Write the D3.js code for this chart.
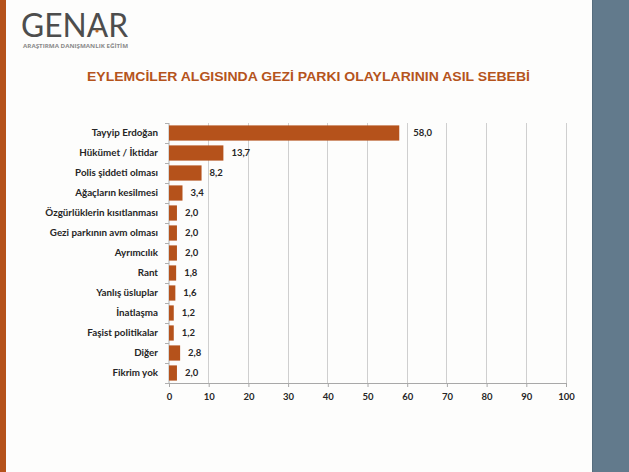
<!DOCTYPE html>
<html><head><meta charset="utf-8">
<script src="https://cdn.jsdelivr.net/npm/d3@7"></script>
<style>body{margin:0;background:#fff}svg{display:block}</style>
</head><body>
<script>
const categories = ["Tayyip Erdoğan","Hükümet / İktidar","Polis şiddeti olması","Ağaçların kesilmesi","Özgürlüklerin kısıtlanması","Gezi parkının avm olması","Ayrımcılık","Rant","Yanlış üsluplar","İnatlaşma","Faşist politikalar","Diğer","Fikrim yok"];
const values = [58.0,13.7,8.2,3.4,2.0,2.0,2.0,1.8,1.6,1.2,1.2,2.8,2.0];
const xTicks = [0,10,20,30,40,50,60,70,80,90,100];
const title = "EYLEMCİLER ALGISINDA GEZİ PARKI OLAYLARININ ASIL SEBEBİ";

const W=629,H=472;
const svg=d3.select("body").append("svg").attr("width",W).attr("height",H);
svg.append("rect").attr("width",W).attr("height",H).attr("fill","#fdfdfc");
// left accent strip
svg.append("rect").attr("x",0).attr("y",0).attr("width",6).attr("height",H).attr("fill","#b5521b");
// right panel
svg.append("rect").attr("x",592).attr("y",0).attr("width",W-592).attr("height",H).attr("fill","#627a8c");
svg.append("rect").attr("x",592).attr("y",0).attr("width",1).attr("height",H).attr("fill","#566d7e");

// logo
svg.append("text").attr("x",21).attr("y",37).attr("font-family","Lato,'Open Sans',sans-serif").attr("font-weight",400)
  .attr("font-size",33).attr("fill","#4d4d4d").attr("textLength",107).attr("lengthAdjust","spacingAndGlyphs").text("GENAR");
svg.append("circle").attr("cx",97).attr("cy",31).attr("r",1.6).attr("fill","#c0651e");
svg.append("text").attr("x",23).attr("y",48).attr("font-family","'Open Sans',sans-serif").attr("font-weight",700)
  .attr("font-size",4.6).attr("fill","#8a8a8a").attr("textLength",105).attr("lengthAdjust","spacingAndGlyphs").text("ARAŞTIRMA DANIŞMANLIK EĞİTİM");

// title
svg.append("text").attr("x",87).attr("y",81).attr("font-family","'Liberation Sans',Arial,sans-serif").attr("font-weight",700)
  .attr("font-size",12).attr("fill","#b5541c").attr("textLength",443).attr("lengthAdjust","spacingAndGlyphs").text(title);

const x=d3.scaleLinear().domain([0,100]).range([169,566]);
const y=d3.scaleBand().domain(categories).range([123,383]).paddingInner(0.24).paddingOuter(0.12);

// gridlines
svg.append("g").selectAll("line").data(xTicks.filter(d=>d>0)).join("line")
  .attr("x1",d=>x(d)).attr("x2",d=>x(d)).attr("y1",123).attr("y2",383)
  .attr("stroke","#cfcfcf").attr("stroke-width",1).attr("shape-rendering","crispEdges");

// y axis
const yAxis=svg.append("g").attr("transform","translate(169,0)")
  .call(d3.axisLeft(y).tickSize(0).tickPadding(11));
yAxis.select(".domain").attr("stroke","#b0b0b0").attr("d","M0,123V383");
yAxis.selectAll("text").attr("font-family","Lato,'Open Sans',sans-serif").attr("font-weight",700)
  .attr("font-size",9.8).attr("fill","#262626");
// small band ticks
svg.append("g").selectAll("line").data(d3.range(categories.length+1)).join("line")
  .attr("x1",165).attr("x2",169).attr("y1",i=>123+i*20).attr("y2",i=>123+i*20)
  .attr("stroke","#b0b0b0").attr("shape-rendering","crispEdges");

// x axis
const xAxis=svg.append("g").attr("transform","translate(0,383)")
  .call(d3.axisBottom(x).tickValues(xTicks).tickSize(4).tickSizeOuter(0).tickPadding(6).tickFormat(d3.format("d")));
xAxis.select(".domain").attr("stroke","#a8a8a8");
xAxis.selectAll(".tick line").attr("stroke","#a8a8a8");
xAxis.selectAll("text").attr("font-family","Lato,'Open Sans',sans-serif").attr("font-weight",700)
  .attr("font-size",9.5).attr("fill","#262626");

// bars
const data=categories.map((c,i)=>({c,v:values[i]}));
svg.append("g").selectAll("rect").data(data).join("rect")
  .attr("x",x(0)).attr("y",d=>y(d.c)).attr("width",d=>x(d.v)-x(0)).attr("height",y.bandwidth())
  .attr("fill","#b5521b");

// value labels
const fmt=v=>v.toFixed(1).replace(".",",");
svg.append("g").selectAll("text").data(data).join("text")
  .attr("x",d=>x(d.v)+(d.v>50?14:8)).attr("y",d=>y(d.c)+y.bandwidth()/2).attr("dy","0.35em")
  .attr("font-family","Lato,'Open Sans',sans-serif").attr("font-weight",700).attr("font-size",9.5)
  .attr("fill","#262626").text(d=>fmt(d.v));
</script>
</body></html>
